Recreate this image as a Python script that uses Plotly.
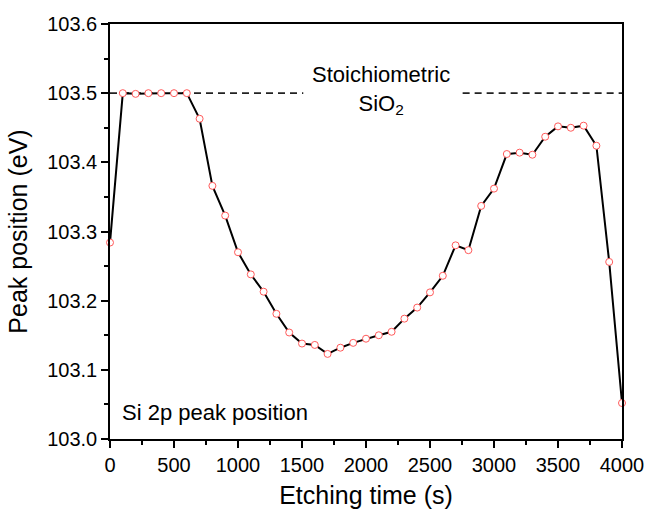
import plotly.graph_objects as go

# Data
etch_time = [0, 100, 200, 300, 400, 500, 600, 700, 800, 900, 1000,
             1100, 1200, 1300, 1400, 1500, 1600, 1700, 1800, 1900, 2000,
             2100, 2200, 2300, 2400, 2500, 2600, 2700, 2800, 2900, 3000,
             3100, 3200, 3300, 3400, 3500, 3600, 3700, 3800, 3900, 4000]
peak_pos = [103.284, 103.500, 103.499, 103.500, 103.500, 103.500, 103.500, 103.463, 103.366, 103.323, 103.270,
            103.238, 103.213, 103.181, 103.154, 103.138, 103.136, 103.123, 103.132, 103.139, 103.145,
            103.150, 103.155, 103.174, 103.190, 103.212, 103.236, 103.280, 103.273, 103.337, 103.362,
            103.412, 103.414, 103.411, 103.437, 103.452, 103.450, 103.453, 103.424, 103.256, 103.052]

stoich_level = 103.5
dash_seg1 = [0, 1510]
dash_seg2 = [2755, 4000]
x_ticks = [0, 500, 1000, 1500, 2000, 2500, 3000, 3500, 4000]
y_ticks = [103.0, 103.1, 103.2, 103.3, 103.4, 103.5, 103.6]

FONT = "Arial, Liberation Sans, sans-serif"

fig = go.Figure()
for seg in (dash_seg1, dash_seg2):
    fig.add_trace(go.Scatter(
        x=seg, y=[stoich_level] * len(seg), mode="lines",
        line=dict(color="#222222", width=1.6, dash="7px,5px"),
        hoverinfo="skip", showlegend=False))

fig.add_trace(go.Scatter(
    x=etch_time, y=peak_pos, mode="lines+markers",
    line=dict(color="black", width=2),
    marker=dict(symbol="circle", size=7, color="white",
                line=dict(color="#ff5a5a", width=1)),
    cliponaxis=False, showlegend=False))

fig.add_annotation(x=2120, y=stoich_level, xref="x", yref="y",
                   text="Stoichiometric<br>SiO<sub>2</sub>", showarrow=False,
                   font=dict(family=FONT, size=22, color="black"),
                   align="center", yshift=3)
fig.add_annotation(x=0.02, y=0.065, xref="paper", yref="paper",
                   text="Si 2p peak position", showarrow=False,
                   xanchor="left", yanchor="middle",
                   font=dict(family=FONT, size=22, color="black"))

axis_common = dict(showline=True, linecolor="black", linewidth=1.5, mirror=True,
                   ticks="outside", tickcolor="black", tickwidth=1.5, ticklen=7,
                   showgrid=False, zeroline=False,
                   tickfont=dict(family=FONT, size=20, color="black"))

fig.update_xaxes(range=[0, 4000], tickvals=x_ticks,
                 minor=dict(ticks="outside", ticklen=4, dtick=250, tickcolor="black", tickwidth=1.5),
                 title=dict(text="Etching time (s)", font=dict(family=FONT, size=25, color="black"),
                            standoff=12),
                 **axis_common)
fig.update_yaxes(range=[103.0, 103.6], tickvals=y_ticks, tickformat=".1f",
                 minor=dict(ticks="outside", ticklen=4, dtick=0.05, tickcolor="black", tickwidth=1.5),
                 title=dict(text="Peak position (eV)", font=dict(family=FONT, size=25, color="black"),
                            standoff=12),
                 **axis_common)

fig.update_layout(width=656, height=517,
                  margin=dict(l=110, r=26, t=24, b=73, pad=0),
                  plot_bgcolor="white", paper_bgcolor="white",
                  font=dict(family=FONT, color="black"))

fig.write_html("out.html")
